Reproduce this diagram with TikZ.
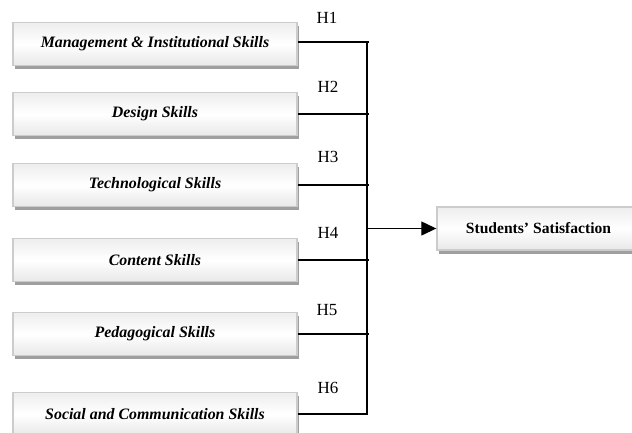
\documentclass[tikz,border=0pt]{standalone}
\usepackage{fontspec}
\setmainfont{Liberation Serif}
\usetikzlibrary{shadows,calc,arrows.meta}
\begin{document}
\begin{tikzpicture}[x=1pt,y=-1pt,
  skillbox/.style={draw=gray!40, line width=1.4pt, minimum width=284pt, minimum height=43pt,
    top color=gray!14, bottom color=gray!18, middle color=white, shading angle=0,
    drop shadow={shadow xshift=1.5pt, shadow yshift=-3.5pt, fill=gray!75, opacity=1},
    font=\fontsize{15.9}{18}\selectfont\bfseries\itshape, inner sep=0pt},
  outbox/.style={skillbox, minimum width=203pt, font=\fontsize{15.6}{18}\selectfont\bfseries},
  hlabel/.style={font=\fontsize{17}{19}\selectfont, inner sep=0pt},
  link/.style={line width=1.3pt, black}]
\useasboundingbox[fill=white] (0,0) rectangle (632,432);

% predictor boxes
\node[skillbox] (b1) at (155,44) {Management \& Institutional Skills};
\node[skillbox] (b2) at (155,114) {Design Skills};
\node[skillbox] (b3) at (155,185) {Technological Skills};
\node[skillbox] (b4) at (155,260) {Content Skills};
\node[skillbox] (b5) at (155,334) {Pedagogical Skills};
\node[skillbox] (b6) at (155,414) {Social and Communication Skills};

% outcome box
\node[outbox] (ss) at (538.5,228.5) {Students’ Satisfaction};

% collecting line
\coordinate (top) at (367,42);
\coordinate (bot) at (367,415);
\draw[link] (top) -- (bot);
\draw[link] ($(b1.east)+(0,-2)$) -- ($(top)+(2,0)$);
\foreach \i in {2,3,4,5}{
  \draw[link] (b\i.east) -- ($(b\i.east -| top)+(2,0)$);
}
\draw[link] (b6.east) -- (b6.east -| bot);
\draw[link, -{Triangle[length=15pt,width=14pt]}] (ss.west -| top) -- (ss.west);

% hypothesis labels
\node[hlabel] (h1) at (327,18) {H1};
\node[hlabel] (h2) at (328,87) {H2};
\node[hlabel] (h3) at (328,157) {H3};
\node[hlabel] (h4) at (328,233) {H4};
\node[hlabel] (h5) at (327,310) {H5};
\node[hlabel] (h6) at (328,388) {H6};
\end{tikzpicture}
\end{document}
